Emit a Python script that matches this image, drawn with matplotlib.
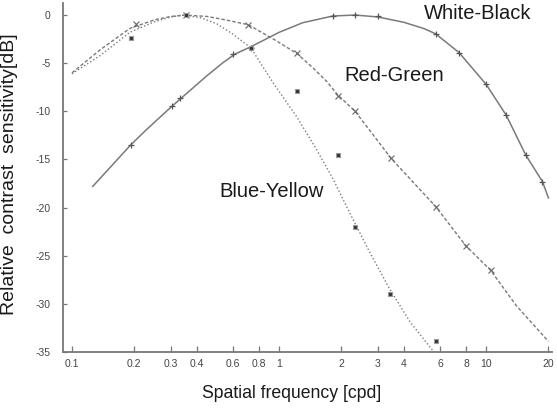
import matplotlib
matplotlib.use("Agg")
import matplotlib.pyplot as plt

plt.rcParams['font.family'] = ['Liberation Sans', 'DejaVu Sans']

# ---- data ----
# White-Black (solid curve + '+' markers)
wb_curve_x = [0.126, 0.192, 0.229, 0.303, 0.443, 0.532, 0.613, 0.73, 1.0, 1.3, 1.82, 2.33, 3.0, 4.0, 5.0, 5.7, 7.4, 10.0, 12.5, 15.5, 18.7, 20.0]
wb_curve_y = [-17.8, -13.5, -11.9, -9.5, -6.4, -5.0, -4.05, -3.3, -1.8, -0.8, -0.1, 0.0, -0.2, -0.75, -1.4, -1.95, -3.9, -7.2, -10.4, -14.5, -17.3, -19.0]
wb_pts_x = [0.192, 0.303, 0.332, 0.6, 0.73, 1.82, 2.33, 3.0, 5.7, 7.4, 10.0, 12.5, 15.5, 18.7]
wb_pts_y = [-13.5, -9.5, -8.6, -4.05, -3.4, -0.1, 0.05, -0.15, -1.95, -3.9, -7.2, -10.4, -14.5, -17.3]

# Red-Green (dashed curve + 'x' markers)
rg_curve_x = [0.1, 0.137, 0.19, 0.25, 0.3, 0.35, 0.45, 0.55, 0.71, 0.94, 1.22, 1.46, 1.7, 1.92, 2.33, 3.48, 5.71, 8.0, 10.5, 14.0, 20.0]
rg_curve_y = [-6.0, -3.6, -1.4, -0.5, -0.15, 0.0, -0.15, -0.5, -1.0, -2.5, -4.0, -5.5, -6.9, -8.3, -10.0, -14.9, -19.9, -24.0, -26.5, -30.2, -33.9]
rg_pts_x = [0.203, 0.356, 0.71, 1.22, 1.92, 2.33, 3.48, 5.71, 8.0, 10.5]
rg_pts_y = [-0.97, 0.0, -1.04, -3.98, -8.4, -10.0, -14.9, -19.9, -24.0, -26.5]

# Blue-Yellow (dotted curve + square markers)
by_curve_x = [0.1, 0.137, 0.19, 0.25, 0.3, 0.35, 0.42, 0.5, 0.6, 0.73, 0.94, 1.22, 1.52, 1.83, 2.2, 2.75, 3.43, 4.3, 5.5]
by_curve_y = [-6.1, -4.2, -1.8, -0.7, -0.2, 0.0, -0.3, -0.9, -2.0, -3.4, -7.1, -10.6, -14.0, -17.1, -20.6, -24.7, -28.5, -31.9, -34.8]
by_pts_x = [0.192, 0.356, 0.73, 1.22, 1.92, 2.33, 3.44, 5.71]
by_pts_y = [-2.4, 0.05, -3.4, -7.86, -14.5, -22.0, -29.0, -33.9]

x_ticks = [0.1, 0.2, 0.3, 0.4, 0.6, 0.8, 1, 2, 3, 4, 6, 8, 10, 20]
x_ticklabels = ['0.1', '0.2', '0.3', '0.4', '0.6', '0.8', '1', '2', '3', '4', '6', '8', '10', '20']
y_ticks = [0, -5, -10, -15, -20, -25, -30, -35]
y_ticklabels = ['0', '-5', '-10', '-15', '-20', '-25', '-30', '-35']

labels = ['White-Black', 'Red-Green', 'Blue-Yellow']
label_x = [9.1, 3.59, 0.915]
label_y = [0.15, -6.3, -18.3]

# ---- figure ----
fig = plt.figure(figsize=(5.57, 4.09), dpi=100)
ax = fig.add_axes([63/557, 1-352/409, (552-63)/557, (352-3)/409])

line_col = '#7a7a7a'
ax.plot(wb_curve_x, wb_curve_y, '-', color=line_col, lw=1.1)
ax.plot(rg_curve_x, rg_curve_y, color=line_col, lw=1.0, linestyle=(0, (2.5, 1.5)))
ax.plot(by_curve_x, by_curve_y, color=line_col, lw=1.0, linestyle=(0, (1, 1.6)))

ax.plot(wb_pts_x, wb_pts_y, '+', color='#555555', ms=4, mew=0.9, ls='none')
ax.plot(rg_pts_x, rg_pts_y, 'x', color='#666666', ms=4.5, mew=0.8, ls='none')
ax.plot(by_pts_x, by_pts_y, 's', mfc='#333333', mec='#999999', ms=3.5, mew=0.8, ls='none')

for t, tx, ty in zip(labels, label_x, label_y):
    ax.text(tx, ty, t, fontsize=14.5, color='#1a1a1a', ha='center', va='center')

ax.set_xscale('log')
ax.set_xlim(0.0905, 20.8)
ax.set_ylim(-35, 1.25)
ax.set_xticks(x_ticks)
ax.set_xticklabels(x_ticklabels)
ax.minorticks_off()
ax.set_yticks(y_ticks)
ax.set_yticklabels(y_ticklabels)

for s in ['top', 'right']:
    ax.spines[s].set_visible(False)
for s in ['left', 'bottom']:
    ax.spines[s].set_color('#777777')
    ax.spines[s].set_linewidth(1.3)

ax.tick_params(axis='x', direction='in', length=4, width=0.9, color='#777777',
               labelsize=7.5, labelcolor='#444444', pad=5)
ax.tick_params(axis='y', direction='in', length=3, width=0.9, color='#777777',
               labelsize=7.5, labelcolor='#444444', pad=9)

ax.set_xlabel('Spatial frequency [cpd]', fontsize=12.7, color='#1a1a1a')
ax.xaxis.set_label_coords((292-63)/(552-63), -(385-352)/(352-3))
ax.set_ylabel('Relative  contrast  sensitivity[dB]', fontsize=14, color='#1a1a1a')
ax.yaxis.set_label_coords(-(63-18)/(552-63), (352-174)/(352-3))

fig.savefig('out.png', dpi=100)
